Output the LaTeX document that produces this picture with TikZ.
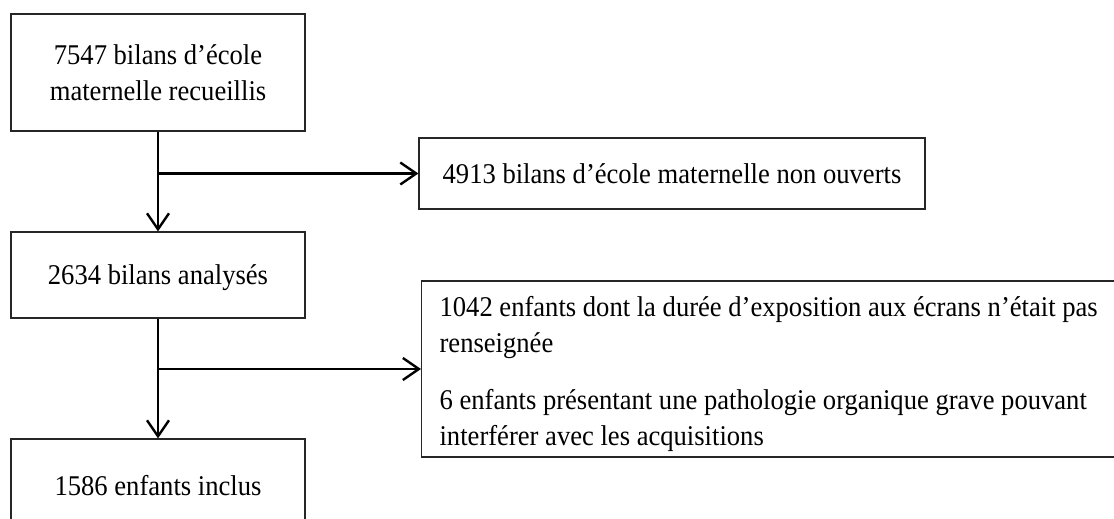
\documentclass[tikz,border=0pt]{standalone}
\usepackage{fontspec}
\setmainfont{Liberation Serif}[FakeStretch=0.93]
\usetikzlibrary{arrows.meta}
\begin{document}
\begin{tikzpicture}
      [x=0.5pt, y=-0.5pt,
      every node/.style={draw=black!85, line width=0.6pt, inner sep=0pt,
        font=\fontsize{14.3}{15}\selectfont},
      bilan/.style={minimum width=147pt, align=center},
      flow/.style={line width=1.2pt, -{Straight Barb[length=8pt,width=11pt]}},
      ]
      \useasboundingbox (0,0) rectangle (1114,519);
      \node[bilan, minimum height=58.5pt] (recueillis) at (158,72.5)
        {7547 bilans d’école\\[3pt]maternelle recueillis};
      \node[bilan, minimum height=43pt, text depth=0pt] (analyses) at (158,275) {2634 bilans analysés};
      \node[bilan, minimum height=46pt, text depth=0pt] (inclus) at (158,485) {1586 enfants inclus};
      \node[minimum width=253pt, minimum height=35.5pt] (ouverts) at (672,173.5)
        {4913 bilans d’école maternelle non ouverts};
      \node[anchor=west, minimum width=354.5pt, minimum height=88pt] (exclus) at (421,369) {};
      \node[draw=none, anchor=north west, xshift=9pt, yshift=-7.5pt, text width=350pt, align=flush left]
        (exclustxt) at (exclus.north west)
        {1042 enfants dont la durée d’exposition aux écrans n’était pas\\[3pt]renseignée\\[13.5pt]
         6 enfants présentant une pathologie organique grave pouvant\\[3pt]interférer avec les acquisitions};
      \coordinate (b1) at (recueillis.south |- ouverts.west);
      \coordinate (b2) at (analyses.south |- exclus.west);
      \draw[flow] (recueillis) -- (analyses);
      \draw[flow] (b1) -- (ouverts.west);
      \draw[flow] (analyses) -- (inclus);
      \draw[flow] (b2) -- (exclus.west);
\end{tikzpicture}
\end{document}
